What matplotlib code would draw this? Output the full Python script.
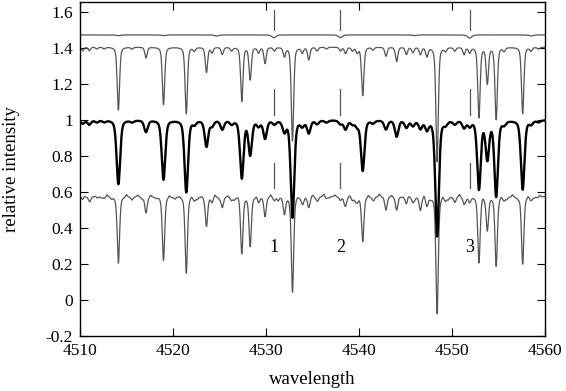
import numpy as np
import matplotlib.pyplot as plt
from matplotlib.ticker import FuncFormatter, MultipleLocator

plt.rcParams['font.family'] = ['Liberation Serif', 'DejaVu Serif']
plt.rcParams['axes.unicode_minus'] = False

# absorption lines: centre (A) and depth for the three spectra
line_centers = [4510.3, 4511.0, 4511.8, 4512.6, 4514.13, 4515.6, 4517.1, 4518.98,
                4521.43, 4522.3, 4523.6, 4524.2, 4525.3, 4526.3, 4527.4, 4528.3,
                4529.2, 4529.9, 4530.9, 4531.98, 4532.85, 4533.9, 4534.6, 4535.5,
                4536.5, 4538.0, 4538.55, 4539.3, 4539.8, 4540.4, 4541.5, 4542.9,
                4544.05, 4545.1, 4545.8, 4546.6, 4547.3, 4548.4, 4549.3, 4550.3,
                4551.3, 4551.9, 4552.9, 4553.8, 4554.75, 4555.6, 4557.6, 4558.5,
                4559.3]
bold_depths = [0.02, 0.025, 0.012, 0.01, 0.356, 0.01, 0.065, 0.33,
               0.40, 0.02, 0.145, 0.03, 0.05, 0.02, 0.32, 0.19,
               0.03, 0.10, 0.02, 0.06, 0.54, 0.03, 0.07, 0.02,
               0.012, 0.02, 0.05, 0.02, 0.03, 0.28, 0.015, 0.05,
               0.09, 0.04, 0.03, 0.045, 0.05, 0.645, 0.02, 0.02,
               0.04, 0.03, 0.38, 0.21, 0.42, 0.02, 0.385, 0.02,
               0.01]
upper_depths = [0.02, 0.02, 0.01, 0.01, 0.35, 0.01, 0.06, 0.32,
                0.37, 0.02, 0.14, 0.03, 0.04, 0.02, 0.30, 0.18,
                0.03, 0.09, 0.02, 0.05, 0.52, 0.03, 0.07, 0.02,
                0.01, 0.02, 0.035, 0.02, 0.03, 0.27, 0.015, 0.05,
                0.08, 0.04, 0.03, 0.04, 0.05, 0.636, 0.02, 0.02,
                0.04, 0.03, 0.39, 0.20, 0.40, 0.02, 0.37, 0.02,
                0.01]
lower_depths = [0.02, 0.02, 0.01, 0.01, 0.37, 0.01, 0.09, 0.355,
                0.425, 0.02, 0.165, 0.03, 0.06, 0.02, 0.315, 0.275,
                0.03, 0.11, 0.02, 0.095, 0.53, 0.03, 0.06, 0.02,
                0.01, 0.02, 0.05, 0.02, 0.03, 0.25, 0.015, 0.075,
                0.075, 0.04, 0.03, 0.075, 0.05, 0.65, 0.02, 0.03,
                0.04, 0.03, 0.365, 0.185, 0.385, 0.02, 0.375, 0.02,
                0.01]

# small wiggles of the noisy bottom spectrum (centre, amplitude up)
lower_ripples = [(4510.4, 0.01), (4511.1, -0.012), (4511.7, 0.008), (4512.3, -0.006),
                 (4512.9, 0.012), (4513.4, -0.01), (4515.0, 0.015), (4515.6, -0.008),
                 (4516.2, 0.01), (4516.7, -0.012), (4517.6, 0.012), (4518.2, -0.006),
                 (4519.6, 0.012), (4520.2, -0.01), (4520.7, 0.008), (4522.0, 0.01),
                 (4522.6, -0.012), (4523.1, 0.006), (4524.5, 0.014), (4525.0, -0.01),
                 (4525.9, 0.008), (4526.6, -0.014), (4527.0, 0.01), (4529.0, 0.012),
                 (4530.5, 0.014), (4531.3, -0.02), (4533.4, 0.01), (4534.0, -0.015),
                 (4535.0, 0.012), (4535.6, -0.008), (4536.2, 0.015), (4536.8, -0.006),
                 (4537.4, 0.01), (4538.4, -0.012), (4539.0, 0.01), (4539.6, -0.014),
                 (4541.0, 0.012), (4541.6, -0.01), (4542.2, 0.015), (4543.5, 0.01),
                 (4545.3, 0.012), (4546.0, -0.01), (4547.0, 0.014), (4547.7, -0.008),
                 (4549.0, 0.014), (4549.6, -0.012), (4550.8, 0.016), (4551.5, -0.01),
                 (4553.3, 0.012), (4555.3, 0.01), (4555.9, -0.012), (4556.5, 0.014),
                 (4557.1, -0.008), (4558.2, 0.01), (4558.8, -0.006), (4559.4, 0.015)]

# nearly flat top spectrum, weak dips
top_centers = [4514.1, 4519.0, 4524.7, 4530.85, 4538.0, 4546.0, 4551.9, 4558.5]
top_depths = [0.004, 0.004, 0.006, 0.016, 0.015, 0.004, 0.018, 0.006]

continua = {'top': 1.472, 'upper': 1.405, 'bold': 1.0, 'lower': 0.575}

# marked features and their label
mark_positions = [4530.85, 4538.0, 4551.9]
mark_labels = ['1', '2', '3']
mark_spans = [(1.50, 1.61), (1.03, 1.17), (0.62, 0.76)]

wl = np.arange(4510.0, 4560.001, 0.01)


def spectrum(cont, centers, depths, fwhm):
    # pseudo-Voigt profile: gaussian core with some lorentzian wing
    sigma = fwhm / 2.3548
    gam = fwhm / 2.0
    flux = np.full_like(wl, cont)
    for c, d in zip(centers, depths):
        g = np.exp(-0.5 * ((wl - c) / sigma) ** 2)
        l = 1.0 / (1.0 + ((wl - c) / gam) ** 2)
        flux -= d * (0.6 * g + 0.4 * l)
    return flux


top = spectrum(continua['top'], top_centers, top_depths, 0.5)
upper = spectrum(continua['upper'], line_centers, upper_depths, 0.3)
bold = spectrum(continua['bold'], line_centers, bold_depths, 0.45)
lower = spectrum(continua['lower'], line_centers, lower_depths, 0.3)
lower = lower - spectrum(0.0, [p for p, a in lower_ripples],
                         [a for p, a in lower_ripples], 0.22)

fig = plt.figure(figsize=(5.66, 3.91), dpi=100)
ax = fig.add_axes([0.1413, 0.1407, 0.8216, 0.8547])

grey = '#555555'
ax.plot(wl, top, color=grey, lw=0.9)
ax.plot(wl, upper, color=grey, lw=0.9)
ax.plot(wl, lower, color=grey, lw=0.9)
ax.plot(wl, bold, color='black', lw=1.7)

for x, lab in zip(mark_positions, mark_labels):
    for y0, y1 in mark_spans:
        ax.plot([x, x], [y0, y1], color=grey, lw=0.9)
    ax.text(x, 0.29, lab, ha='center', va='center', fontsize=13)

ax.set_xlim(4510, 4560)
ax.set_ylim(-0.2, 1.656)
ax.xaxis.set_major_locator(MultipleLocator(10))
ax.yaxis.set_major_locator(MultipleLocator(0.2))
ax.yaxis.set_major_formatter(FuncFormatter(lambda v, p: '%g' % round(v, 2)))
ax.tick_params(direction='in', top=True, right=True, length=6, width=0.8,
               labelsize=12.5, pad=5)
for s in ax.spines.values():
    s.set_linewidth(1.0)

ax.set_xlabel('wavelength', fontsize=13.5)
ax.set_ylabel('relative intensity', fontsize=13.5)
ax.xaxis.set_label_coords(0.5, -0.105)
ax.yaxis.set_label_coords(-0.13, 0.5)

fig.savefig('out.png', dpi=100)
